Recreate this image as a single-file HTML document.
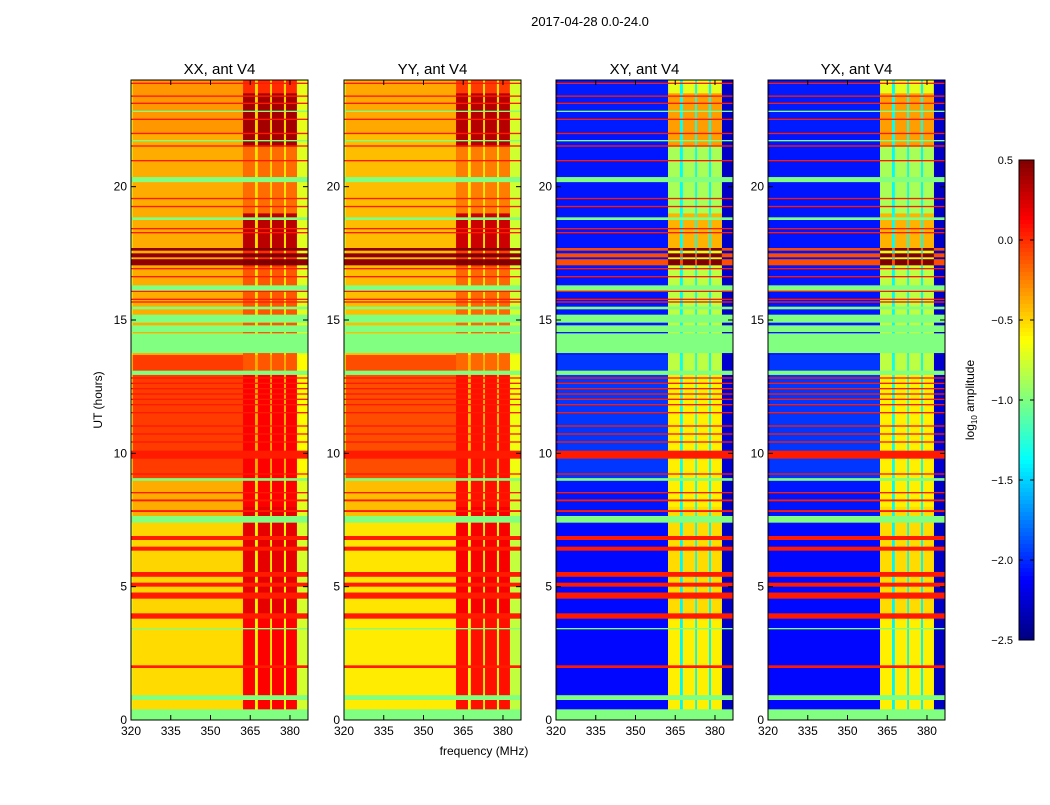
<!DOCTYPE html>
<html><head><meta charset="utf-8"><style>
body{margin:0;background:#fff;font-family:"Liberation Sans",sans-serif;}
svg text{font-family:"Liberation Sans",sans-serif;}
</style></head><body>
<svg id="fig" width="1050" height="800" xmlns="http://www.w3.org/2000/svg">
<rect width="1050" height="800" fill="#fff"/>
<text x="590" y="26" font-size="13" text-anchor="middle">2017-04-28 0.0-24.0</text>
<text x="484" y="755" font-size="12" text-anchor="middle">frequency (MHz)</text>
<text transform="translate(102,400) rotate(-90)" font-size="12" text-anchor="middle">UT (hours)</text>
<text transform="translate(974,400) rotate(-90)" font-size="12" text-anchor="middle">log<tspan font-size="8" dy="3">10</tspan><tspan dy="-3"> amplitude</tspan></text>
<g id="panels"></g>
<g id="cbar"></g>
</svg>
<script>
const panelTitles=["XX, ant V4","YY, ant V4","XY, ant V4","YX, ant V4"];
const panelLeft=[131,344,556,768];
const lowVal=[-0.5,-0.55,-2.1,-2.1];
const rfiVal=[0.0,-0.05,-0.7,-0.7];
const gapVal=[-0.6,-0.65,-1.4,-1.4];
const edgeVal=[-0.75,-0.8,-2.3,-2.3];
const darkLow=[0.45,0.45,-0.1,-0.1];
const levelScale=[1,1,0.3,0.3];
const xTicks=[320,335,350,365,380];
const yTicks=[0,5,10,15,20];
const cbTicks=[0.5,0.0,-0.5,-1.0,-1.5,-2.0,-2.5];
const cbLabels=["0.5","0.0","\u22120.5","\u22121.0","\u22121.5","\u22122.0","\u22122.5"];
// frequency segments: [f0,f1,type] 0 low,1 rfi,2 gap,3 edge
const colSegs=[[320,320.6,3],[320.6,362.3,0],[362.3,366.8,1],[366.8,367.9,2],[367.9,372.5,1],[372.5,373.2,2],[373.2,377.7,1],[377.7,378.5,2],[378.5,382.6,1],[382.6,386.8,3]];
// hour bands level offsets [t0,t1,offset]
const levelSegs=[[0,4,-0.02],[4,7.5,0.0],[7.5,9,0.12],[9,13.7,0.45],[13.7,17,0.12],[17,22,0.12],[22,24,0.18]];
const rfiBoost=[[0,4,0.1],[4,8,0.15],[8,13,0.1],[13,17,-0.1],[17.7,19,0.25],[19,21.5,-0.15],[21.5,23.5,0.3]];
const flagRows=[[0,0.4],[0.75,0.93],[3.4,3.45],[7.4,7.65],[8.97,9.07],[12.94,13.1],[13.76,14.5],[14.55,14.8],[14.9,15.2],[15.4,15.5],[16.1,16.3],[18.75,18.85],[20.17,20.36],[21.7,21.75],[22.8,22.85]];
const redRows=[[1.95,2.05],[3.8,4.0],[4.55,4.78],[5.0,5.15],[5.37,5.55],[6.35,6.5],[6.75,6.9],[7.8,7.87],[8.2,8.27],[8.5,8.55],[9.2,9.25],[9.8,10.1],[10.4,10.45],[10.7,10.75],[11.0,11.05],[11.5,11.55],[11.8,11.85],[12.0,12.05],[12.2,12.25],[12.4,12.45],[12.6,12.65],[12.8,12.85],[15.65,15.7],[15.75,15.8],[16.05,16.1],[16.6,16.65],[16.9,16.95],[18.25,18.3],[18.4,18.45],[19.23,19.28],[19.53,19.58],[20.95,21.0],[21.5,21.55],[21.97,22.02],[22.5,22.55],[23.1,23.15],[23.37,23.42],[23.85,23.9]];
const darkRows=[[17.05,17.28],[17.35,17.5],[17.6,17.7]];

const NS="http://www.w3.org/2000/svg";
const PW=177,PT=80,PB=720,F0=320,F1=386.8,T1=24;
function xs(i,f){return panelLeft[i]+(f-F0)/(F1-F0)*PW;}
function ys(t){return PB-t/T1*(PB-PT);}
function jet(v){let x=(v+2.5)/3;x=Math.max(0,Math.min(1,x));const c=a=>Math.round(255*Math.max(0,Math.min(1,1.5-Math.abs(4*x-a))));return `rgb(${c(3)},${c(2)},${c(1)})`;}
function el(tag,attrs,parent){const e=document.createElementNS(NS,tag);for(const k in attrs)e.setAttribute(k,attrs[k]);parent.appendChild(e);return e;}
const panels=document.getElementById('panels');
function segVal(i,type,extra){if(type===0)return lowVal[i]+extra;if(type===1)return rfiVal[i];if(type===2)return gapVal[i]+extra*0.5;return edgeVal[i]+extra*0.3;}
for(let i=0;i<4;i++){
  const g=el('g',{},panels);
  
  
  const auto=i<2;
  levelSegs.forEach(s=>{colSegs.forEach(c=>{
    const off=s[2]*levelScale[i];
    const r=el('rect',{x:xs(i,c[0]),y:ys(s[1]),width:xs(i,c[1])-xs(i,c[0])+0.3,height:ys(s[0])-ys(s[1])+0.3,fill:jet(segVal(i,c[2],off))},g);
    
    
  });});
  rfiBoost.forEach(s=>{colSegs.forEach(c=>{if(c[2]!==1)return;
    const r=el('rect',{x:xs(i,c[0]),y:ys(s[1]),width:xs(i,c[1])-xs(i,c[0]),height:ys(s[0])-ys(s[1]),fill:jet(rfiVal[i]+s[2]*(auto?1.3:1.2))},g);
    
    
  });});
  redRows.forEach(s=>{
    const r=el('rect',{x:panelLeft[i],y:ys(s[1]),width:PW,height:Math.max(1,ys(s[0])-ys(s[1])),fill:jet(0.05)},g);
    
    
  });
  flagRows.forEach(s=>{
    const r=el('rect',{x:panelLeft[i],y:ys(s[1]),width:PW,height:Math.max(1,ys(s[0])-ys(s[1])),fill:jet(-1.0)},g);
    
    
  });
  darkRows.forEach(s=>{colSegs.forEach(c=>{
    const v=c[2]===1?0.5:darkLow[i];
    const r=el('rect',{x:xs(i,c[0]),y:ys(s[1]),width:xs(i,c[1])-xs(i,c[0])+0.3,height:ys(s[0])-ys(s[1]),fill:jet(v)},g);
    
    
  });});
  const fr=el('rect',{x:panelLeft[i],y:PT,width:PW,height:PB-PT,fill:'none',stroke:'#000','stroke-width':1},g);
  
  
  const t=el('text',{x:panelLeft[i]+PW/2,y:74,'font-size':15,'text-anchor':'middle'},g);t.textContent=panelTitles[i];
  
  
  xTicks.forEach(f=>{const x=xs(i,f);
    el('line',{x1:x,x2:x,y1:PB,y2:PB-5,stroke:'#000'},g);el('line',{x1:x,x2:x,y1:PT,y2:PT+5,stroke:'#000'},g);
    const tx=el('text',{x:x,y:PB+15,'font-size':12,'text-anchor':'middle'},g);tx.textContent=f;
    
    
  });
  yTicks.forEach(h=>{const y=ys(h);
    el('line',{x1:panelLeft[i],x2:panelLeft[i]+5,y1:y,y2:y,stroke:'#000'},g);el('line',{x1:panelLeft[i]+PW,x2:panelLeft[i]+PW-5,y1:y,y2:y,stroke:'#000'},g);
    const ty=el('text',{x:panelLeft[i]-4,y:y+4,'font-size':12,'text-anchor':'end'},g);ty.textContent=h;
    
    
  });
}
const cb=document.getElementById('cbar');
const CX=1019,CW=15,CT=160,CB=640;
function cys(v){return CT+(0.5-v)/3*(CB-CT);}
for(let k=0;k<120;k++){const v0=0.5-k*3/120,v1=v0-3/120;
  const r=el('rect',{x:CX,y:cys(v0),width:CW,height:cys(v1)-cys(v0)+0.5,fill:jet((v0+v1)/2)},cb);
  
  
}
const cf=el('rect',{x:CX,y:CT,width:CW,height:CB-CT,fill:'none',stroke:'#000'},cb);


cbTicks.forEach((v,j)=>{const y=cys(v);
  el('line',{x1:CX,x2:CX+4,y1:y,y2:y,stroke:'#000'},cb);el('line',{x1:CX+CW,x2:CX+CW-4,y1:y,y2:y,stroke:'#000'},cb);
  const t=el('text',{x:CX-6,y:y+4,'font-size':11,'text-anchor':'end'},cb);t.textContent=cbLabels[j];
  
  
});
</script>
</body></html>
